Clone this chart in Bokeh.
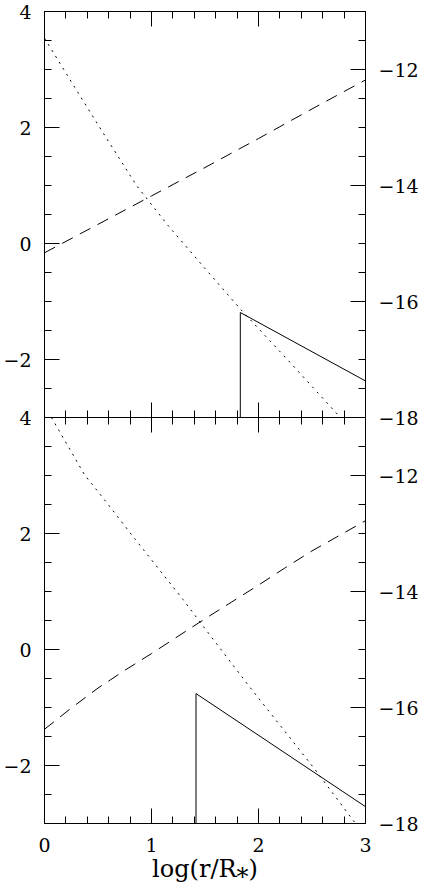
import numpy as np
from bokeh.plotting import figure
from bokeh.models import Range1d, LinearAxis, FixedTicker, SingleIntervalTicker
from bokeh.embed import file_html
from bokeh.resources import INLINE

# ---------------- data ----------------
# upper panel
top_dot_x = [0.0, 0.27, 0.54, 0.86, 1.15, 1.5, 1.835, 2.3, 2.765]
top_dot_y = [3.54, 2.73, 1.93, 1.0, 0.32, -0.43, -1.14, -2.06, -3.0]
top_dash_x = [0.0, 0.5, 1.0, 1.5, 2.0, 2.5, 3.0]
top_dash_y = [-0.16, 0.33, 0.82, 1.31, 1.81, 2.32, 2.82]
top_solid_x = [1.83, 1.83, 3.0]
top_solid_y = [-3.0, -1.19, -2.37]

# lower panel
bot_dot_x = [0.065, 0.375, 0.578, 0.85, 1.295, 1.463, 1.898, 2.516, 2.907, 2.95]
bot_dot_y = [4.0, 3.01, 2.54, 1.895, 0.86, 0.45, -0.60, -2.04, -3.0, -3.1]
bot_dash_x = [0.0, 0.25, 0.5, 0.75, 1.0, 1.25, 1.5, 1.75, 2.0, 2.25, 2.5, 2.75, 3.0]
bot_dash_y = [-1.375, -1.01, -0.665, -0.36, -0.07, 0.23, 0.53, 0.82, 1.11, 1.41, 1.70, 1.96, 2.22]
bot_solid_x = [1.416, 1.416, 3.0]
bot_solid_y = [-3.0, -0.76, -2.71]

X_TICKS = [0, 1, 2, 3]
LEFT_TICKS = [-2, 0, 2, 4]
RIGHT_TICKS = [-18, -16, -14, -12]
X_LABEL = "log(r/R\u204e)"

X_MIN, X_MAX = 0, 3
Y_MIN, Y_MAX = -3, 4          # left scale of each panel
RIGHT_OFFSET = -15            # right scale = left scale + RIGHT_OFFSET
SPAN = Y_MAX - Y_MIN

FONT = "DejaVu Serif"


def minus(v):
    return str(v).replace("-", "\u2212")


p = figure(width=425, height=890, output_backend="svg", toolbar_location=None,
           x_range=Range1d(X_MIN, X_MAX), y_range=Range1d(Y_MIN, Y_MAX + SPAN),
           x_axis_type=None, y_axis_type=None,
           min_border_left=43, min_border_right=60, min_border_top=11, min_border_bottom=67)
p.extra_y_ranges = {"top": Range1d(Y_MIN - SPAN, Y_MAX)}
p.outline_line_color = None
p.background_fill_color = "white"
p.border_fill_color = "white"

DOT = "2 5"
DASH = "12 8"
p.line(top_dot_x, top_dot_y, y_range_name="top", line_color="black", line_width=1, line_dash=DOT)
p.line(top_dash_x, top_dash_y, y_range_name="top", line_color="black", line_width=1, line_dash=DASH)
p.line(top_solid_x, top_solid_y, y_range_name="top", line_color="black", line_width=1)
p.line(bot_dot_x, bot_dot_y, line_color="black", line_width=1, line_dash=DOT)
p.line(bot_dash_x, bot_dash_y, line_color="black", line_width=1, line_dash=DASH)
p.line(bot_solid_x, bot_solid_y, line_color="black", line_width=1)


def style(ax, show_labels=True):
    ax.axis_line_color = "black"
    ax.axis_line_width = 1
    ax.major_tick_line_color = "black"
    ax.minor_tick_line_color = "black"
    ax.major_tick_in = 15
    ax.major_tick_out = 0
    ax.minor_tick_in = 7
    ax.minor_tick_out = 0
    ax.major_label_text_font = FONT
    ax.major_label_text_font_size = "19px"
    ax.major_label_text_color = "black"
    if not show_labels:
        ax.major_label_text_color = None
        ax.major_label_text_font_size = "0px"
        ax.major_label_standoff = 0


# x axes
xb = LinearAxis(ticker=SingleIntervalTicker(interval=1, num_minor_ticks=5))
style(xb)
xb.major_label_standoff = 14
xb.major_label_overrides = {t: minus(t) for t in X_TICKS}
xb.axis_label = X_LABEL
xb.axis_label_text_font = FONT
xb.axis_label_text_font_size = "24px"
xb.axis_label_text_font_style = "normal"
xb.axis_label_text_color = "black"
xb.axis_label_standoff = 0
p.add_layout(xb, "below")

xt = LinearAxis(ticker=SingleIntervalTicker(interval=1, num_minor_ticks=5))
style(xt, show_labels=False)
p.add_layout(xt, "above")

xm = LinearAxis(ticker=SingleIntervalTicker(interval=1, num_minor_ticks=5), fixed_location=Y_MAX)
style(xm, show_labels=False)
xm.major_tick_out = 15
xm.minor_tick_out = 7
p.add_layout(xm, "below")

# y axes (lower panel in native coords, upper panel shifted by SPAN)
minor_y = list(np.arange(Y_MIN, Y_MAX + SPAN + 0.01, 0.5))
left_pos = [t for t in LEFT_TICKS] + [t + SPAN for t in LEFT_TICKS]
left_lab = [minus(t) for t in LEFT_TICKS] * 2
yl = LinearAxis(ticker=FixedTicker(ticks=left_pos, minor_ticks=minor_y))
style(yl)
yl.major_label_standoff = 13
yl.major_label_overrides = {pos: lab for pos, lab in zip(left_pos, left_lab)}
p.add_layout(yl, "left")

right_pos = [r - RIGHT_OFFSET for r in RIGHT_TICKS] + [r - RIGHT_OFFSET + SPAN for r in RIGHT_TICKS]
right_lab = [minus(r) for r in RIGHT_TICKS] * 2
yr = LinearAxis(ticker=FixedTicker(ticks=right_pos, minor_ticks=minor_y))
style(yr)
yr.major_label_standoff = 13
yr.major_label_overrides = {pos: lab for pos, lab in zip(right_pos, right_lab)}
p.add_layout(yr, "right")

open("out.html", "w").write(file_html(p, INLINE))
